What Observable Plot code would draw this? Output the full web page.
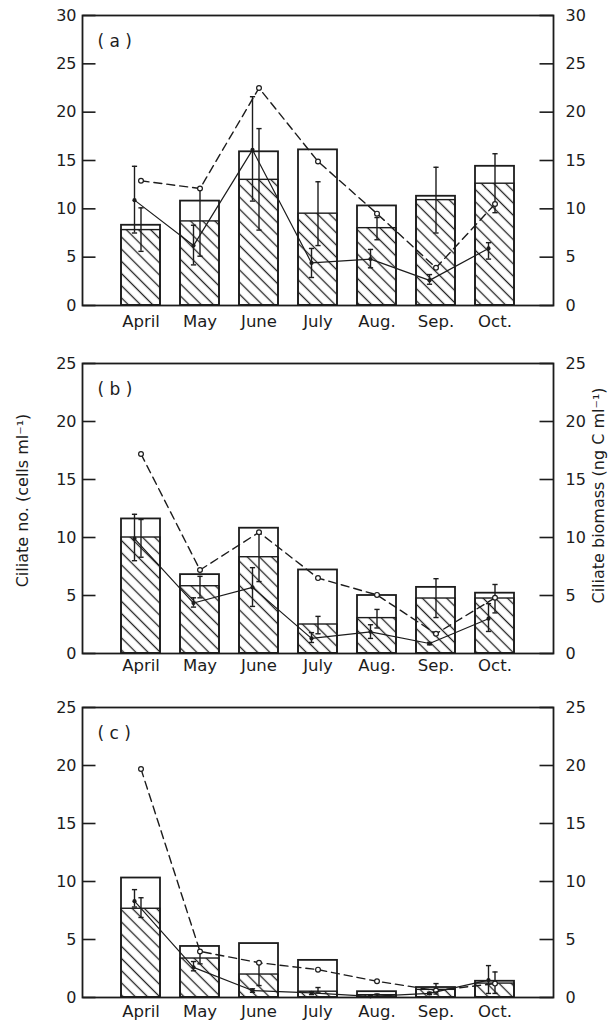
<!DOCTYPE html>
<html>
<head>
<meta charset="utf-8">
<script src="https://cdn.jsdelivr.net/npm/d3@7"></script>
<script src="https://cdn.jsdelivr.net/npm/@observablehq/plot@0.6"></script>
<style>
  body { margin: 0; background: #fff; }
  #chart { width: 614px; height: 1024px; position: relative; background: #fff; }
  #chart svg.panel { display: block; position: absolute; left: 0; }
</style>
</head>
<body>
<svg width="0" height="0" style="position:absolute">
  <defs>
    <pattern id="hatch" patternUnits="userSpaceOnUse" width="8.6" height="8.6" patternTransform="rotate(45)">
      <rect width="8.6" height="8.6" fill="white"></rect>
      <line x1="0" y1="4.3" x2="8.6" y2="4.3" stroke="#222" stroke-width="1.3"></line>
    </pattern>
  </defs>
</svg>
<div id="chart"></div>
<script>
// ---------- data ----------
const months = ["April", "May", "June", "July", "Aug.", "Sep.", "Oct."];

// Panel (a)
const aTotal   = [8.3, 10.8, 15.9, 16.1, 10.3, 11.3, 14.4];
const aHatched = [7.8, 8.7, 13.0, 9.5, 8.0, 10.9, 12.6];
const aBarLo   = [5.6, 5.1, 7.8, 6.2, 6.8, 7.5, 9.6];
const aBarHi   = [10.1, 12.1, 18.3, 12.8, 9.1, 14.3, 15.7];
const aDashed  = [12.9, 12.1, 22.5, 14.9, 9.5, 3.9, 10.5];
const aSolid   = [10.9, 6.2, 16.1, 4.4, 4.8, 2.6, 5.9];
const aSolidLo = [7.5, 4.2, 10.8, 2.9, 3.9, 2.2, 4.8];
const aSolidHi = [14.4, 8.3, 21.6, 5.9, 5.8, 3.2, 6.5];

// Panel (b)
const bTotal   = [11.6, 6.8, 10.8, 7.2, 5.0, 5.7, 5.2];
const bHatched = [10.0, 5.8, 8.3, 2.5, 3.05, 4.74, 4.74];
const bBarLo   = [8.3, 4.8, 6.2, 1.7, 2.2, 3.1, 3.5];
const bBarHi   = [11.55, 6.65, 10.45, 3.2, 3.8, 6.45, 5.95];
const bDashed  = [17.2, 7.2, 10.45, 6.5, 5.05, 1.7, 4.8];
const bSolid   = [9.9, 4.35, 5.7, 1.3, 1.87, 0.86, 3.0];
const bSolidLo = [8.0, 4.0, 4.06, 0.95, 1.3, 0.75, 1.9];
const bSolidHi = [12.0, 4.8, 7.4, 1.8, 2.48, 0.95, 4.3];

// Panel (c)
const cTotal   = [10.3, 4.4, 4.65, 3.2, 0.5, 0.86, 1.4];
const cHatched = [7.65, 3.36, 1.98, 0.5, 0.2, 0.66, 1.2];
const cBarLo   = [6.9, 2.9, 1.03, 0.4, 0.1, 0.3, 0.35];
const cBarHi   = [8.6, 3.97, 3.0, 0.86, 0.3, 1.2, 2.2];
const cDashed  = [19.7, 3.97, 3.0, 2.4, 1.4, 0.6, 1.2];
const cSolid   = [8.3, 2.6, 0.6, 0.4, 0.1, 0.35, 1.5];
const cSolidLo = [7.8, 2.3, 0.45, 0.25, 0.05, 0.25, 0.35];
const cSolidHi = [9.3, 3.1, 0.75, 0.5, 0.2, 0.45, 2.75];

const ticksA = [0, 5, 10, 15, 20, 25, 30];
const ticksBC = [0, 5, 10, 15, 20, 25];

const leftLabel = "Ciliate no. (cells ml⁻¹)";
const rightLabel = "Ciliate biomass (ng C ml⁻¹)";

// ---------- drawing ----------
const INK = "#1c1c1c";
const FONT = "DejaVu Sans, sans-serif";

const capSymbol = { draw(ctx) { ctx.moveTo(-2.6, 0); ctx.lineTo(2.6, 0); } };
const tickLeftSymbol = { draw(ctx) { ctx.moveTo(0, 0); ctx.lineTo(13, 0); } };
const tickRightSymbol = { draw(ctx) { ctx.moveTo(-14, 0); ctx.lineTo(0, 0); } };

function rowsOf(total, hatched, barLo, barHi, dashed, solid, solidLo, solidHi) {
  return months.map((m, i) => ({
    month: m, total: total[i], hatched: hatched[i], barLo: barLo[i], barHi: barHi[i],
    dashed: dashed[i], solid: solid[i], solidLo: solidLo[i], solidHi: solidHi[i]
  }));
}

function panel({tag, rows, yMax, ticks, top, height, marginTop, marginBottom, xPad, withLabels}) {
  const SOLID_DX = -6.5;
  const marks = [
    Plot.barY(rows, {x: "month", y: "hatched", fill: "url(#hatch)", stroke: INK, strokeWidth: 1.4}),
    Plot.barY(rows, {x: "month", y: "total", fill: "none", stroke: INK, strokeWidth: 1.8}),
    // error bars of the hatched bars
    Plot.ruleX(rows, {x: "month", y1: "barLo", y2: "barHi", stroke: INK, strokeWidth: 1.4}),
    Plot.dot(rows, {x: "month", y: "barLo", symbol: capSymbol, stroke: INK, fill: "none", strokeWidth: 1.4}),
    Plot.dot(rows, {x: "month", y: "barHi", symbol: capSymbol, stroke: INK, fill: "none", strokeWidth: 1.4}),
    // dashed series with open circles
    Plot.line(rows, {x: "month", y: "dashed", stroke: INK, strokeWidth: 1.4, strokeDasharray: "8,5"}),
    Plot.dot(rows, {x: "month", y: "dashed", r: 2.4, fill: "white", stroke: INK, strokeWidth: 1.2}),
    // solid series with filled dots
    Plot.line(rows, {x: "month", y: "solid", dx: SOLID_DX, stroke: INK, strokeWidth: 1.2}),
    Plot.ruleX(rows, {x: "month", y1: "solidLo", y2: "solidHi", dx: SOLID_DX, stroke: INK, strokeWidth: 1.4}),
    Plot.dot(rows, {x: "month", y: "solidLo", dx: SOLID_DX, symbol: capSymbol, stroke: INK, fill: "none", strokeWidth: 1.4}),
    Plot.dot(rows, {x: "month", y: "solidHi", dx: SOLID_DX, symbol: capSymbol, stroke: INK, fill: "none", strokeWidth: 1.4}),
    Plot.dot(rows, {x: "month", y: "solid", dx: SOLID_DX, r: 2.1, fill: INK, stroke: "none"}),
    // frame & axes
    Plot.frame({stroke: INK, strokeWidth: 1.8}),
    Plot.dot(ticks, {y: d => d, frameAnchor: "left", symbol: tickLeftSymbol, stroke: INK, fill: "none", strokeWidth: 1.6}),
    Plot.dot(ticks, {y: d => d, frameAnchor: "right", symbol: tickRightSymbol, stroke: INK, fill: "none", strokeWidth: 1.6}),
    Plot.axisY({ticks, anchor: "left", tickSize: 0, tickPadding: 6, fontSize: 16, label: null, fill: INK}),
    Plot.axisY({ticks, anchor: "right", tickSize: 0, tickPadding: 12, fontSize: 16, label: null, fill: INK}),
    Plot.axisX({anchor: "bottom", tickSize: 0, tickPadding: xPad, fontSize: 16.5, label: null, fill: INK}),
    Plot.text([tag], {text: d => d, frameAnchor: "top-left", dx: 15, dy: 19, fontSize: 17, fill: INK, textAnchor: "start"})
  ];
  if (withLabels) {
    marks.push(Plot.text([leftLabel], {text: d => d, frameAnchor: "left", dx: -60, dy: -8, rotate: -90, textAnchor: "middle", fontSize: 16, fill: INK}));
    marks.push(Plot.text([rightLabel], {text: d => d, frameAnchor: "right", dx: 45, dy: -13, rotate: -90, textAnchor: "middle", fontSize: 16, fill: INK}));
  }
  const svg = Plot.plot({
    width: 614,
    height,
    marginTop,
    marginBottom,
    marginLeft: 82,
    marginRight: 61,
    style: {fontFamily: FONT, background: "transparent", color: INK, overflow: "visible"},
    x: {type: "band", domain: months, paddingInner: 0.34, paddingOuter: 0.66},
    y: {domain: [0, yMax]},
    marks
  });
  svg.classList.add("panel");
  svg.style.top = top + "px";
  return svg;
}

const chart = document.getElementById("chart");
chart.append(
  panel({tag: "( a )", rows: rowsOf(aTotal, aHatched, aBarLo, aBarHi, aDashed, aSolid, aSolidLo, aSolidHi),
         yMax: 30, ticks: ticksA, top: 0, height: 340, marginTop: 15, marginBottom: 35, xPad: 10}),
  panel({tag: "( b )", rows: rowsOf(bTotal, bHatched, bBarLo, bBarHi, bDashed, bSolid, bSolidLo, bSolidHi),
         yMax: 25, ticks: ticksBC, top: 340, height: 345, marginTop: 23, marginBottom: 32, xPad: 6, withLabels: true}),
  panel({tag: "( c )", rows: rowsOf(cTotal, cHatched, cBarLo, cBarHi, cDashed, cSolid, cSolidLo, cSolidHi),
         yMax: 25, ticks: ticksBC, top: 685, height: 339, marginTop: 22, marginBottom: 27, xPad: 8})
);
</script>
</body>
</html>
